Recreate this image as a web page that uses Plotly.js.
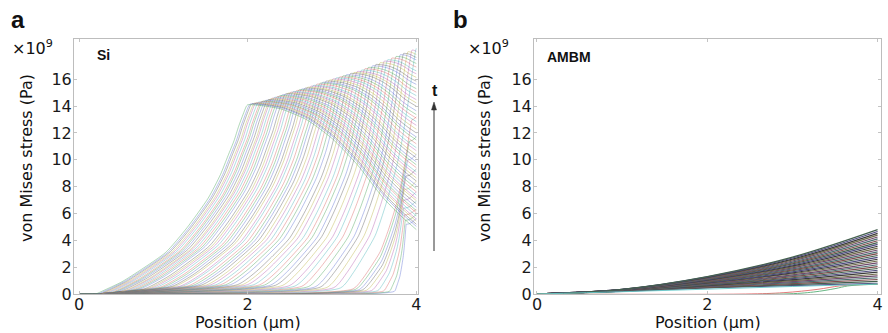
<!DOCTYPE html>
<html><head><meta charset="utf-8">
<script src="https://cdn.plot.ly/plotly-3.0.1.min.js"></script>
<style>html,body{margin:0;padding:0;background:#fff;}#chart{width:888px;height:333px;}</style>
</head><body><div id="chart"></div>
<script>
// ---------- Panel a (Si): one entry per curve, earliest first ----------
const siPeakX = [3.88,3.87,3.86,3.85,3.85,3.86,3.88,3.90,3.92,3.95,
 4.00,3.95,3.90,3.85,3.81,3.76,3.71,3.66,3.62,3.57,3.52,3.48,3.43,3.39,3.35,3.30,3.26,3.22,3.17,3.13,
 3.09,3.05,3.01,2.97,2.93,2.89,2.86,2.82,2.78,2.75,2.71,2.68,2.64,2.61,2.58,2.54,2.51,2.48,2.45,2.41,
 2.38,2.35,2.32,2.29,2.27,2.24,2.21,2.18,2.16,2.13,2.10,2.08,2.05,2.03,2.00];
const siPeakY = [5.2,5.5,5.9,6.4,7.0,7.8,8.8,10.0,11.4,13.0,
 18.3,18.18,18.05,17.93,17.83,17.7,17.58,17.45,17.35,17.23,17.1,17.0,16.88,16.78,16.68,16.58,16.5,16.43,16.33,16.25,
 16.17,16.1,16.02,15.94,15.86,15.77,15.71,15.63,15.54,15.48,15.4,15.34,15.27,15.21,15.16,15.08,15.03,14.97,14.92,14.84,
 14.78,14.71,14.65,14.59,14.54,14.48,14.42,14.37,14.34,14.3,14.25,14.22,14.18,14.15,14.1];
const siEndY = [5.6,5.9,6.3,6.9,7.6,8.4,9.3,10.4,11.7,13.2,
 18.3,18.08,17.85,17.63,17.45,17.18,16.91,16.63,16.41,16.14,15.86,15.62,15.3,15.04,14.78,14.48,14.24,13.99,13.65,13.37,
 13.1,12.84,12.57,12.28,12.0,11.7,11.48,11.19,10.9,10.68,10.38,10.15,9.85,9.63,9.41,9.1,8.89,8.65,8.42,8.1,
 7.86,7.61,7.37,7.13,6.96,6.72,6.46,6.22,6.06,5.83,5.59,5.43,5.2,5.04,4.8];
const siWidth = [0.14,0.19,0.25,0.31,0.38,0.45,0.52,0.58,0.64,0.70,
 0.90,0.93,0.96,0.99,1.01,1.04,1.07,1.10,1.13,1.16,1.19,1.21,1.23,1.25,1.28,1.30,1.32,1.34,1.37,1.39,
 1.41,1.43,1.45,1.46,1.48,1.49,1.51,1.52,1.54,1.55,1.57,1.58,1.59,1.61,1.62,1.63,1.65,1.66,1.67,1.69,
 1.70,1.71,1.72,1.73,1.74,1.75,1.76,1.76,1.77,1.78,1.78,1.79,1.79,1.80,1.80];
// low tail level where each front starts (the dark wedge near the x axis)
const siTail = [0.2,0.2,0.22,0.24,0.26,0.28,0.3,0.32,0.35,0.38,
 0.45,0.47,0.49,0.51,0.53,0.55,0.57,0.59,0.61,0.63,0.65,0.66,0.67,0.68,0.69,0.7,0.7,0.7,0.7,0.69,
 0.69,0.68,0.68,0.67,0.66,0.65,0.64,0.62,0.61,0.59,0.58,0.56,0.54,0.52,0.5,0.48,0.45,0.42,0.4,0.37,
 0.34,0.31,0.28,0.25,0.22,0.2,0.17,0.15,0.13,0.1,0.08,0.06,0.04,0.02,0];
// rise profile: fraction of width vs fraction of peak
const riseR = [0,0.17,0.30,0.46,0.60,0.74,0.82,0.87,0.91,0.94,0.97,0.99,1];
const riseQ = [0,0.064,0.13,0.22,0.35,0.507,0.63,0.73,0.81,0.885,0.95,0.99,1];
// fall profile after the peak
const descU = [0,0.1,0.2,0.35,0.5,0.65,0.8,0.9,1];
const descV = [0,0.01,0.035,0.12,0.27,0.48,0.74,0.88,1];

// ---------- Panel b (AMBM) ----------
const ambmX = [0,1,2,3,4];
const ambmCurves = [
 [0,0.20,0.45,0.63,0.80],[0,0.205,0.48,0.70,0.94],[0,0.21,0.51,0.78,1.08],[0,0.215,0.54,0.85,1.21],
 [0,0.22,0.57,0.92,1.35],[0,0.225,0.60,0.99,1.49],[0,0.23,0.63,1.07,1.63],[0,0.235,0.66,1.14,1.77],
 [0,0.24,0.68,1.21,1.90],[0,0.245,0.71,1.29,2.04],[0,0.25,0.74,1.36,2.18],[0,0.255,0.77,1.43,2.32],
 [0,0.26,0.80,1.51,2.46],[0,0.27,0.83,1.58,2.59],[0,0.27,0.86,1.65,2.73],[0,0.28,0.89,1.73,2.87],
 [0,0.28,0.92,1.80,3.01],[0,0.29,0.95,1.87,3.14],[0,0.29,0.98,1.95,3.28],[0,0.30,1.01,2.02,3.42],
 [0,0.30,1.04,2.09,3.56],[0,0.31,1.07,2.16,3.70],[0,0.31,1.10,2.24,3.83],[0,0.32,1.12,2.31,3.97],
 [0,0.32,1.15,2.38,4.11],[0,0.33,1.18,2.46,4.25],[0,0.33,1.21,2.53,4.39],[0,0.34,1.24,2.60,4.52],
 [0,0.34,1.27,2.68,4.66],[0,0.35,1.30,2.75,4.80]
];
const ambmEarlyX = [[0,2.45,2.9,3.3,3.55,3.75,4],[0,2.9,3.25,3.5,3.65,3.8,4],[0,1,2,3,4]];
const ambmEarlyY = [[0,0,0.1,0.35,0.6,0.68,0.72],[0,0,0.15,0.4,0.6,0.68,0.72],[0,0.17,0.36,0.56,0.74]];

const yTicks = [0,2,4,6,8,10,12,14,16];
const xTicks = [0,2,4];

const siColors = ['#5468d0','#3f9f4f','#d85a5a','#3fb0b4','#b052aa','#b8ae3a','#555555'];
const ambmColors = ['#504c80','#44604e','#7e4c4c','#4a6e70','#6e4a6c','#6e6a48','#3a3a3a'];
const earlyColors = ['#e06a6a','#58b078','#66caca'];

const traces = [];
for (let k = 0; k < siPeakX.length; k++) {
  const p = siPeakX[k], h = siPeakY[k], e = siEndY[k], w = siWidth[k], t0 = siTail[k];
  const start = p - w;
  const xs = [0, 0.2], ys = [0, 0];
  for (let i = 0; i < riseR.length; i++) { xs.push(start + riseR[i] * w); ys.push(t0 + riseQ[i] * (h - t0)); }
  if (p < 4) {
    for (let i = 1; i < descU.length; i++) { xs.push(p + descU[i] * (4 - p)); ys.push(h - descV[i] * (h - e)); }
  }
  traces.push({x: xs, y: ys, xaxis: 'x', yaxis: 'y', mode: 'lines', hoverinfo: 'skip',
    line: {color: siColors[k % siColors.length], width: 0.9, shape: 'spline', smoothing: 0.6}, opacity: 0.45});
}
for (let j = 0; j < ambmCurves.length; j++) {
  traces.push({x: ambmX, y: ambmCurves[j], xaxis: 'x2', yaxis: 'y2', mode: 'lines', hoverinfo: 'skip',
    line: {color: ambmColors[j % ambmColors.length], width: 1.2, shape: 'spline'}});
}
for (let j = 0; j < ambmEarlyX.length; j++) {
  traces.push({x: ambmEarlyX[j], y: ambmEarlyY[j], xaxis: 'x2', yaxis: 'y2', mode: 'lines', hoverinfo: 'skip',
    line: {color: earlyColors[j], width: 0.9, shape: 'spline'}});
}

const tickFont = {family: 'DejaVu Sans', size: 16, color: '#1a1a1a'};
function axis(extra) {
  return Object.assign({showline: true, linecolor: '#bdbdbd', linewidth: 1, mirror: 'ticks',
    ticks: 'inside', ticklen: 3, tickwidth: 1, tickcolor: '#c4c4c4', showgrid: false, zeroline: false,
    tickfont: tickFont, fixedrange: true}, extra);
}
const W = 888, H = 333;
const px = v => v / W, py = v => 1 - v / H;
const yDom = [py(294), py(39)];

const ann = [];
function txt(t, x, y, size, bold, extra) {
  ann.push(Object.assign({text: bold ? '<b>' + t + '</b>' : t, x: px(x), y: py(y), xref: 'paper', yref: 'paper',
    showarrow: false, xanchor: 'center', yanchor: 'middle',
    font: {family: bold ? 'Liberation Sans' : 'DejaVu Sans', size: size, color: '#111'}}, extra || {}));
}
txt('a', 18, 20, 24, true);
txt('b', 460, 20, 24, true);
txt('×10<sup>9</sup>', 32, 48, 16, false);
txt('×10<sup>9</sup>', 488, 48, 16, false);
txt('von Mises stress (Pa)', 26, 158, 16, false, {textangle: -90});
txt('von Mises stress (Pa)', 484, 158, 16, false, {textangle: -90});
txt('Position (µm)', 248, 322, 16, false);
txt('Position (µm)', 708, 322, 16, false);
txt('Si', 103, 55, 14, true);
txt('AMBM', 569, 57, 14, true);
txt('t', 435, 91, 16, true);

const shapes = [
  {type: 'line', xref: 'paper', yref: 'paper', x0: px(434), x1: px(434), y0: py(251), y1: py(108),
   line: {color: '#333', width: 1}},
  {type: 'path', xref: 'paper', yref: 'paper',
   path: 'M ' + px(431.5) + ' ' + py(110) + ' L ' + px(434) + ' ' + py(102) + ' L ' + px(436.5) + ' ' + py(110) + ' Z',
   fillcolor: '#333', line: {color: '#333', width: 0.5}}
];

const layout = {
  width: W, height: H, margin: {l: 0, r: 0, t: 0, b: 0}, paper_bgcolor: '#fff', plot_bgcolor: '#fff',
  showlegend: false,
  xaxis: axis({domain: [px(74), px(418)], range: [-0.06, 4.02], tickvals: xTicks, anchor: 'y', ticklabelstandoff: -4}),
  yaxis: axis({domain: yDom, range: [0, 19], tickvals: yTicks, anchor: 'x', ticklabelstandoff: -2}),
  xaxis2: axis({domain: [px(534), px(881)], range: [-0.035, 4.04], tickvals: xTicks, anchor: 'y2', ticklabelstandoff: -4}),
  yaxis2: axis({domain: yDom, range: [0, 19], tickvals: yTicks, anchor: 'x2', ticklabelstandoff: -2}),
  annotations: ann, shapes: shapes
};
Plotly.newPlot('chart', traces, layout, {staticPlot: true, displayModeBar: false});
</script></body></html>
